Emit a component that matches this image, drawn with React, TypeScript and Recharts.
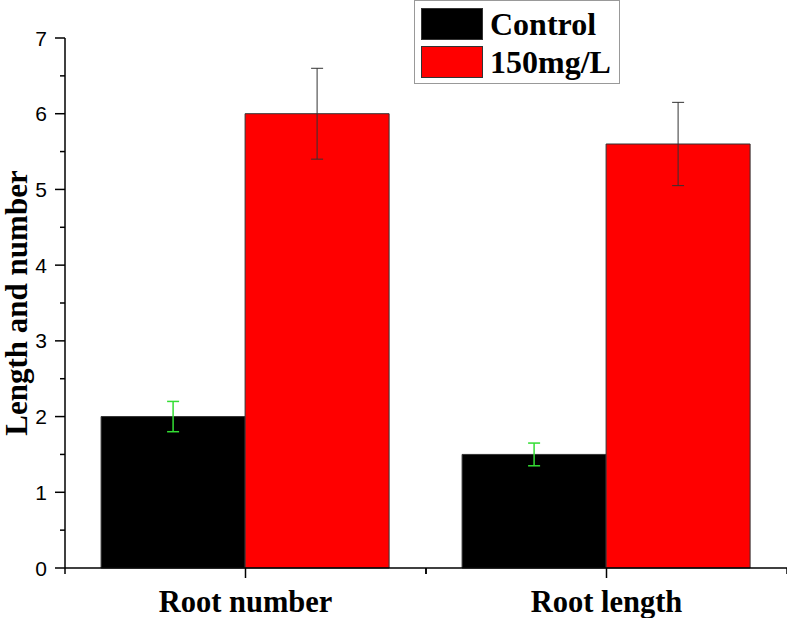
import React from 'react';
import { BarChart, Bar, XAxis, YAxis, Legend, ErrorBar } from 'recharts';

const categories = ['Root number', 'Root length'];
const seriesNames = ['Control', '150mg/L'];
const controlValues = [2, 1.5];
const controlErrors = [0.2, 0.15];
const treatedValues = [6, 5.6];
const treatedErrors = [0.6, 0.55];
const yTicks = [0, 0.5, 1, 1.5, 2, 2.5, 3, 3.5, 4, 4.5, 5, 5.5, 6, 6.5, 7];

const data = categories.map((name, i) => ({
    name,
    control: controlValues[i],
    controlErr: controlErrors[i],
    treated: treatedValues[i],
    treatedErr: treatedErrors[i],
}));

const serif = '"Liberation Serif", "Times New Roman", serif';
const sans = '"Liberation Sans", Arial, sans-serif';

const YTick = (props: any) => {
    const { x, y, payload } = props;
    const major = Number.isInteger(payload.value);
    return (
        <g>
            <line x1={x - (major ? 10 : 5)} x2={x} y1={y} y2={y} stroke="#000" strokeWidth={1.5} />
            {major && (
                <text x={x - 18} y={y} dy={7.5} textAnchor="end" fontSize={21} fontFamily={sans} fill="#000">
                    {payload.value}
                </text>
            )}
        </g>
    );
};

const XTick = (props: any) => {
    const { x, y, payload } = props;
    const half = payload.offset ?? 0;
    return (
        <g>
            <line x1={x} x2={x} y1={y} y2={y + 10} stroke="#000" strokeWidth={1.5} />
            <line x1={x - half} x2={x - half} y1={y} y2={y + 6} stroke="#000" strokeWidth={1.5} />
            <line x1={x + half} x2={x + half} y1={y} y2={y + 6} stroke="#000" strokeWidth={1.5} />
            <text x={x} y={y + 44} textAnchor="middle" fontSize={30.5} fontWeight="bold" fontFamily={serif} fill="#000">
                {payload.value}
            </text>
        </g>
    );
};

const YTitle = (props: any) => {
    const { viewBox } = props;
    const cy = viewBox.y + viewBox.height / 2;
    return (
        <text x={27} y={cy} transform={`rotate(-90 27 ${cy})`} textAnchor="middle" fontSize={31} fontWeight="bold" fontFamily={serif} fill="#000">
            Length and number
        </text>
    );
};

const LegendBox = (props: any) => {
    const items = [...props.payload].sort((a: any, b: any) => seriesNames.indexOf(a.value) - seriesNames.indexOf(b.value));
    return (
        <div style={{ border: '1.5px solid #999', background: '#fff', padding: '4px 6px 2px 6px', width: 192 }}>
            {items.map((p: any) => (
                <div key={p.value} style={{ display: 'flex', alignItems: 'center', height: 38 }}>
                    <span style={{ width: 62, height: 32, background: p.color, border: '1px solid #333', marginRight: 7, boxSizing: 'border-box' }} />
                    <span style={{ fontFamily: serif, fontWeight: 'bold', fontSize: 32, color: '#000', lineHeight: 1 }}>{p.value}</span>
                </div>
            ))}
        </div>
    );
};

export default function App() {
    return (
        <div style={{ position: 'absolute', left: 0, top: 0, background: '#fff' }}>
            <BarChart width={787} height={618} data={data} margin={{ top: 38, right: 0, bottom: 0, left: 0 }} barCategoryGap="10%" barGap={0}>
                <XAxis dataKey="name" height={50} tickSize={0} tickMargin={0} tickLine={false} tick={<XTick />} interval={0} axisLine={{ stroke: '#000', strokeWidth: 1.5 }} />
                <YAxis
                    width={65}
                    domain={[0, 7]}
                    ticks={yTicks}
                    interval={0}
                    tickSize={0}
                    tickMargin={0}
                    tickLine={false}
                    tick={<YTick />}
                    axisLine={{ stroke: '#000', strokeWidth: 1.5 }}
                    label={<YTitle />}
                />
                <Legend layout="vertical" verticalAlign="middle" align="center" content={<LegendBox />} wrapperStyle={{ left: 414, top: 0, width: 'auto' }} />
                <Bar dataKey="control" name={seriesNames[0]} fill="#000000" stroke="#333" strokeWidth={1} isAnimationActive={false}>
                    <ErrorBar dataKey="controlErr" width={6} stroke="#33dd33" strokeWidth={1.5} isAnimationActive={false} />
                </Bar>
                <Bar dataKey="treated" name={seriesNames[1]} fill="#ff0000" stroke="#333" strokeWidth={1} isAnimationActive={false}>
                    <ErrorBar dataKey="treatedErr" width={6} stroke="#333" strokeWidth={1} isAnimationActive={false} />
                </Bar>
            </BarChart>
        </div>
    );
}
